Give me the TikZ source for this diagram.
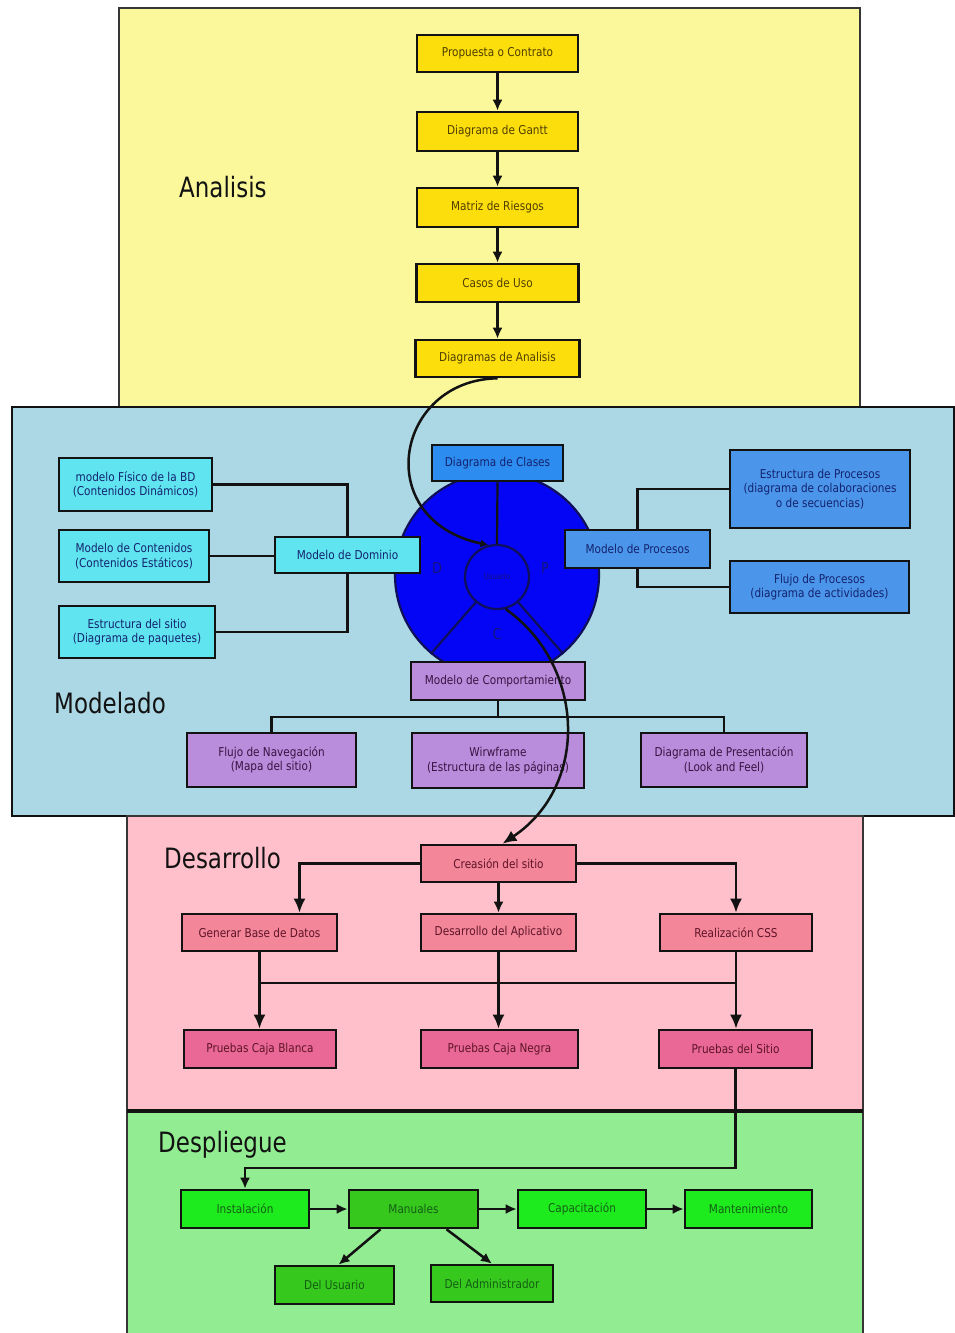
\documentclass[tikz,border=0pt]{standalone}
\usepackage{fontspec}
\usetikzlibrary{arrows.meta}
\newfontfamily\boxfont[FakeStretch=0.86]{DejaVu Sans}
\newfontfamily\labelfont[FakeStretch=0.82]{DejaVu Sans}

% section backgrounds
\definecolor{secA}{RGB}{250,248,155}
\definecolor{secM}{RGB}{172,215,229}
\definecolor{secD}{RGB}{255,192,203}
\definecolor{secP}{RGB}{146,236,146}
% box fills
\definecolor{yelBox}{RGB}{252,222,12}
\definecolor{cyanBox}{RGB}{95,228,240}
\definecolor{clsBox}{RGB}{45,140,240}
\definecolor{procBox}{RGB}{75,150,235}
\definecolor{purBox}{RGB}{185,140,220}
\definecolor{pinkA}{RGB}{244,134,154}
\definecolor{pinkB}{RGB}{234,104,150}
\definecolor{grnA}{RGB}{30,235,30}
\definecolor{grnB}{RGB}{55,200,30}
\definecolor{wheel}{RGB}{5,5,245}
\definecolor{wheelLine}{RGB}{15,15,90}
% text colours
\definecolor{txtY}{RGB}{80,62,0}
\definecolor{txtB}{RGB}{20,35,110}
\definecolor{txtP}{RGB}{55,20,65}
\definecolor{txtR}{RGB}{95,20,40}
\definecolor{txtG}{RGB}{20,95,20}
\definecolor{wheelTxt}{RGB}{20,20,125}
\definecolor{ink}{RGB}{18,18,18}

\tikzset{
  box/.style={draw=ink, line width=2.6pt, inner sep=2pt, align=center,
    font=\boxfont\fontsize{12.2}{14.5}\selectfont},
  ybox/.style={box, fill=yelBox, text=txtY},
  cbox/.style={box, fill=cyanBox, text=txtB},
  bbox/.style={box, fill=procBox, text=txtB},
  pbox/.style={box, fill=purBox, text=txtP},
  rboxA/.style={box, fill=pinkA, text=txtR},
  rboxB/.style={box, fill=pinkB, text=txtR},
  gboxA/.style={box, fill=grnA, text=txtG},
  gboxB/.style={box, fill=grnB, text=txtG},
  seclabel/.style={anchor=base west, inner sep=0pt, text=ink,
    font=\labelfont\fontsize{28}{30}\selectfont},
  link/.style={draw=ink, line width=2.5pt},
  arr/.style={link, -{Latex[length=14pt,width=12pt]}},
  sarr/.style={link, -{Latex[length=11pt,width=10pt]}},
  wheelletter/.style={text=wheelTxt, font=\boxfont\fontsize{15}{15}\selectfont},
}

\begin{document}
\begin{tikzpicture}[x=1pt,y=-1pt]
\useasboundingbox (0,0) rectangle (955,1333);
\clip (0,0) rectangle (955,1333);
\fill[white] (0,0) rectangle (955,1333);

% ---------- phase panels ----------
\filldraw[fill=secA, draw=ink!85, line width=1.5pt] (119,8) rectangle (860,407);
\filldraw[fill=secM, draw=ink, line width=2.4pt] (12,407) rectangle (954,816);
\filldraw[fill=secD, draw=ink!85, line width=1.5pt] (127,816) rectangle (863,1111);
\filldraw[fill=secP, draw=ink!85, line width=1.5pt] (127,1111) rectangle (863,1345);
\draw[ink, line width=3.2pt] (127,1111) -- (863,1111);

\node[seclabel] (lblA) at (179,197) {Analisis};
\node[seclabel] (lblM) at (54,713) {Modelado};
\node[seclabel] (lblD) at (164,868) {Desarrollo};
\node[seclabel] (lblP) at (158,1152) {Despliegue};

% ---------- Analisis ----------
\node[ybox, minimum width=161pt, minimum height=37pt] (prop)    at (497.5,53.5)  {Propuesta o Contrato};
\node[ybox, minimum width=161pt, minimum height=39pt] (gantt)   at (497.5,131.5) {Diagrama de Gantt};
\node[ybox, minimum width=161pt, minimum height=39pt] (riesgos) at (497.5,207.5) {Matriz de Riesgos};
\node[ybox, minimum width=162pt, minimum height=38pt] (casos)   at (497.5,283)   {Casos de Uso};
\node[ybox, minimum width=164pt, minimum height=37pt] (danal)   at (497.5,358.5) {Diagramas de Analisis};

\draw[sarr] (prop) -- (gantt);
\draw[sarr] (gantt) -- (riesgos);
\draw[sarr] (riesgos) -- (casos);
\draw[sarr] (casos) -- (danal);

% ---------- Modelado: the wheel ----------
\node[circle, fill=wheel, draw=wheelLine, line width=2.2pt, minimum size=204pt, inner sep=0pt] (outer) at (497,575) {};
\node[circle, fill=wheel, draw=wheelLine, line width=2.2pt, minimum size=64pt, inner sep=0pt,
      text=wheelTxt, font=\boxfont\fontsize{8}{8}\selectfont] (inner) at (497,577) {Usuario};
\draw[draw=wheelLine, line width=2.2pt] (inner.230) -- (outer.230);
\draw[draw=wheelLine, line width=2.2pt] (inner.-50) -- (outer.-50);
\node[wheelletter] (lD) at (437,568) {D};
\node[wheelletter] (lP) at (545,568) {P};
\node[wheelletter] (lC) at (497,634) {C};

\node[box, fill=clsBox, text=txtB, minimum width=131pt, minimum height=36pt] (clases) at (497.5,463) {Diagrama de Clases};
\draw[draw=ink, line width=2.2pt] (inner.north) -- (clases.south);

% domain model branch
\node[cbox, minimum width=153pt, minimum height=53pt] (fisico)     at (135.5,484.5) {modelo Físico de la BD\\(Contenidos Dinámicos)};
\node[cbox, minimum width=150pt, minimum height=52pt] (contenidos) at (134,556)     {Modelo de Contenidos\\(Contenidos Estáticos)};
\node[cbox, minimum width=156pt, minimum height=52pt] (sitio)      at (137,632)     {Estructura del sitio\\(Diagrama de paquetes)};
\node[cbox, minimum width=145pt, minimum height=36pt] (dominio)    at (347.5,555)   {Modelo de Dominio};

\draw[link] (fisico.east) -| (dominio.north);
\draw[link] (contenidos.east) -- (contenidos.east -| dominio.west);
\draw[link] (sitio.east) -| (dominio.south);

% process model branch
\node[bbox, minimum width=145pt, minimum height=38pt] (procesos) at (637.5,549) {Modelo de Procesos};
\node[bbox, minimum width=180pt, minimum height=78pt] (estruc)   at (820,489)   {Estructura de Procesos\\(diagrama de colaboraciones\\o de secuencias)};
\node[bbox, minimum width=179pt, minimum height=52pt] (flujo)    at (819.5,587) {Flujo de Procesos\\(diagrama de actividades)};

\draw[link] (procesos.north) |- (estruc.west);
\draw[link] (procesos.south) |- (flujo.west);

% behaviour model branch
\node[pbox, minimum width=174pt, minimum height=38pt] (comport) at (498,681)   {Modelo de Comportamiento};
\node[pbox, minimum width=169pt, minimum height=54pt] (naveg)   at (271.5,760) {Flujo de Navegación\\(Mapa del sitio)};
\node[pbox, minimum width=172pt, minimum height=55pt] (wire)    at (498,760.5) {Wirwframe\\(Estructura de las páginas)};
\node[pbox, minimum width=166pt, minimum height=54pt] (present) at (724,760)   {Diagrama de Presentación\\(Look and Feel)};

\coordinate (bus) at (498,717);
\draw[link] (comport.south) -- (comport.south |- bus);
\draw[link] (naveg.north) -- (naveg.north |- bus) -- (present.north |- bus) -- (present.north);

% ---------- Desarrollo ----------
\node[rboxA, minimum width=155pt, minimum height=37pt] (creacion) at (498.5,863.5) {Creasión del sitio};
\node[rboxA, minimum width=155pt, minimum height=37pt] (generar)  at (259.5,932.5) {Generar Base de Datos};
\node[rboxA, minimum width=155pt, minimum height=37pt] (desapl)   at (498.5,932.5) {Desarrollo del Aplicativo};
\node[rboxA, minimum width=152pt, minimum height=37pt] (css)      at (736,932.5)   {Realización CSS};
\node[rboxB, minimum width=152pt, minimum height=38pt] (blanca)   at (260,1049)    {Pruebas Caja Blanca};
\node[rboxB, minimum width=157pt, minimum height=38pt] (negra)    at (499.5,1049)  {Pruebas Caja Negra};
\node[rboxB, minimum width=153pt, minimum height=38pt] (psitio)   at (735.5,1049)  {Pruebas del Sitio};

\draw[arr] (creacion.west) -| ([xshift=40pt]generar.north);
\draw[arr] (creacion.east) -| (css.north);
\draw[sarr] (creacion.south) -- (creacion.south |- desapl.north);

\coordinate (testbus) at (498,983);
\draw[link] (generar.south |- testbus) -- (css.south |- testbus);
\draw[arr] (generar.south) -- (generar.south |- blanca.north);
\draw[arr] (desapl.south) -- (desapl.south |- negra.north);
\draw[arr] (css.south) -- (css.south |- psitio.north);

% ---------- Despliegue ----------
\node[gboxA, minimum width=128pt, minimum height=38pt] (inst)  at (245,1209)    {Instalación};
\node[gboxB, minimum width=129pt, minimum height=38pt] (manu)  at (413.5,1209)  {Manuales};
\node[gboxA, minimum width=128pt, minimum height=38pt] (capa)  at (582,1209)    {Capacitación};
\node[gboxA, minimum width=127pt, minimum height=38pt] (mant)  at (748.5,1209)  {Mantenimiento};
\node[gboxB, minimum width=119pt, minimum height=38pt] (usu)   at (334.5,1285)  {Del Usuario};
\node[gboxB, minimum width=122pt, minimum height=37pt] (admin) at (492,1283.5)  {Del Administrador};

\coordinate (turn) at (0,1168);
\draw[sarr] (psitio.south) -- (psitio.south |- turn) -- (inst.north |- turn) -- (inst.north);
\draw[sarr] (inst) -- (manu);
\draw[sarr] (manu) -- (capa);
\draw[sarr] (capa) -- (mant);
\draw[sarr] ([xshift=-33pt]manu.south) -- ([xshift=4pt]usu.north);
\draw[sarr] ([xshift=33pt]manu.south) -- (admin.north);

% ---------- flow through the wheel ----------
\draw[link, -{Latex[length=8pt,width=8pt]}] (danal.south) .. controls (395,380) and (370,520) .. (inner.105);
\draw[arr] (inner.-75) .. controls (585,665) and (590,785) .. ([xshift=4pt]creacion.north);

\end{tikzpicture}
\end{document}
